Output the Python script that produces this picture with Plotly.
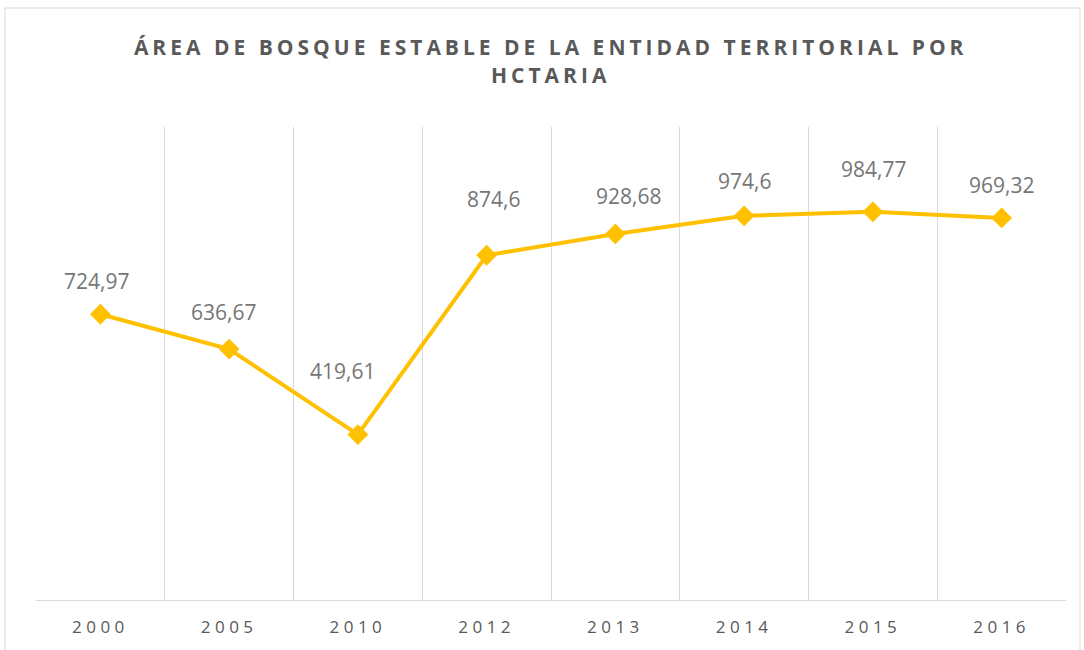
import plotly.graph_objects as go

years = ["2000", "2005", "2010", "2012", "2013", "2014", "2015", "2016"]
area_ha = [724.97, 636.67, 419.61, 874.6, 928.68, 974.6, 984.77, 969.32]

# label offsets (px) to mimic Excel's label placement
label_yshift = [33, 37, 64, 56, 38, 35, 43, 33]
label_xshift = [-4, -6, -15, 7, 13, 0, 1, 0]

labels = [f"{v:g}".replace(".", ",") for v in area_ha]

fig = go.Figure()
fig.add_trace(go.Scatter(
    x=years, y=area_ha, mode="lines+markers",
    line=dict(color="#FFC000", width=4),
    marker=dict(symbol="diamond", size=16, color="#FFC000"),
    hoverinfo="skip", showlegend=False,
))

for i, (y, t, sy, sx) in enumerate(zip(area_ha, labels, label_yshift, label_xshift)):
    fig.add_annotation(x=i, y=y, xref="x", yref="y", text=t, showarrow=False,
                       yshift=sy, xshift=sx,
                       font=dict(family="Open Sans", size=21, color="#767676"))

L, R, T, B = 36, 18, 127, 50
W, H = 1084, 650
pw, ph = W - L - R, H - T - B
fig.add_shape(type="rect", xref="paper", yref="paper",
              x0=(5 - L) / pw, x1=(1080 - L) / pw,
              y0=(H - B - 660) / ph, y1=(H - B - 8) / ph,
              line=dict(color="#D9D9D9", width=1), layer="below")

fig.update_layout(
    width=W, height=H,
    margin=dict(l=L, r=R, t=T, b=B),
    paper_bgcolor="white", plot_bgcolor="white",
    title=dict(text="ÁREA DE BOSQUE ESTABLE DE LA ENTIDAD TERRITORIAL POR<br>HCTARIA",
               x=0.508, xanchor="center", y=0.915, yanchor="middle",
               font=dict(family="Open Sans", size=21, color="#595959", weight="bold")),
    xaxis=dict(type="category", tickson="boundaries", showgrid=True,
               gridcolor="#D9D9D9", gridwidth=1, showline=True, linecolor="#D9D9D9",
               ticks="", tickfont=dict(family="Open Sans", size=17, color="#595959"),
               ticklabelstandoff=12,
               range=[-0.5, 7.5], zeroline=False),
    yaxis=dict(range=[0, 1200], showgrid=False, showticklabels=False,
               zeroline=False, showline=False, ticks=""),
)

post = """
document.body.style.margin = '0';
function styleText() {
  document.querySelectorAll('.gtitle').forEach(function(e){ e.style.letterSpacing = '4px'; });
  document.querySelectorAll('.xtick text').forEach(function(e){ e.style.letterSpacing = '4.5px'; });
}
styleText();
setTimeout(styleText, 0);
setTimeout(styleText, 200);
"""

fig.write_html("out.html", post_script=post, config={"displayModeBar": False})
